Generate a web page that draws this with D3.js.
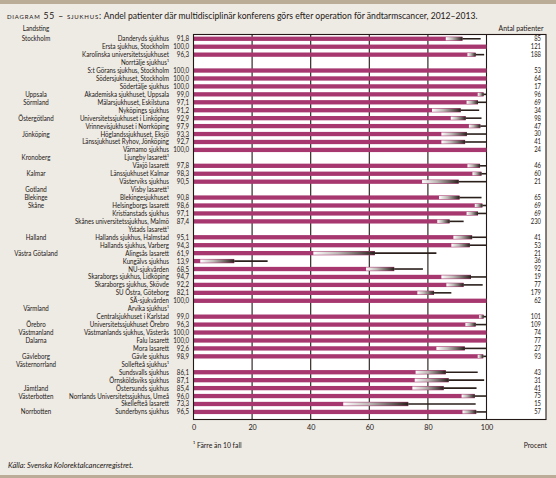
<!DOCTYPE html>
<html><head><meta charset="utf-8">
<script src="https://cdn.jsdelivr.net/npm/d3@7"></script>
<style>
html,body{margin:0;padding:0;background:#EEEAE4;}
svg{display:block;}
text{font-family:"Lato","Liberation Sans",sans-serif;fill:#231815;}
</style></head>
<body><svg id="c" width="556" height="478"></svg>
<script>
const landsting = ["Stockholm","","","","","","","Uppsala","Sörmland","","Östergötland","","Jönköping","","","Kronoberg","","Kalmar","","Gotland","Blekinge","Skåne","","","","Halland","","Västra Götaland","","","","","","","Värmland","","Örebro","Västmanland","Dalarna","","Gävleborg","Västernorrland","","","Jämtland","Västerbotten","","Norrbotten"];
const hospitals = ["Danderyds sjukhus","Ersta sjukhus, Stockholm","Karolinska universitetssjukhuset","Norrtälje sjukhus¹","S:t Görans sjukhus, Stockholm","Södersjukhuset, Stockholm","Södertälje sjukhus","Akademiska sjukhuset, Uppsala","Mälarsjukhuset, Eskilstuna","Nyköpings sjukhus","Universitetssjukhuset i Linköping","Vrinnevisjukhuset i Norrköping","Höglandssjukhuset, Eksjö","Länssjukhuset Ryhov, Jönköping","Värnamo sjukhus","Ljungby lasarett¹","Växjö lasarett","Länssjukhuset Kalmar","Västerviks sjukhus","Visby lasarett¹","Blekingesjukhuset","Helsingborgs lasarett","Kristianstads sjukhus","Skånes universitetssjukhus, Malmö","Ystads lasarett¹","Hallands sjukhus, Halmstad","Hallands sjukhus, Varberg","Alingsås lasarett","Kungälvs sjukhus","NU-sjukvården","Skaraborgs sjukhus, Lidköping","Skaraborgs sjukhus, Skövde","SU Östra, Göteborg","SÄ-sjukvården","Arvika sjukhus¹","Centralsjukhuset i Karlstad","Universitetssjukhuset Örebro","Västmanlands sjukhus, Västerås","Falu lasarett","Mora lasarett","Gävle sjukhus","Sollefteå sjukhus¹","Sundsvalls sjukhus","Örnsköldsviks sjukhus","Östersunds sjukhus","Norrlands Universitetssjukhus, Umeå","Skellefteå lasarett","Sunderbyns sjukhus"];
const values = [91.8,100,96.3,null,100,100,100,99.0,97.1,91.2,92.9,97.9,93.3,92.7,100,null,97.8,98.3,90.5,null,90.8,98.6,97.1,87.4,null,95.1,94.3,61.9,13.9,68.5,94.7,92.2,82.1,100,null,99.0,96.3,100,100,92.6,98.9,null,86.1,87.1,85.4,96.0,73.3,96.5];
const ciLow = [86.1,null,93.5,null,null,null,null,97.0,93.2,81.4,87.8,94.0,84.6,84.6,null,null,93.5,95.2,78.0,null,83.8,96.0,93.2,83.2,null,88.7,88.0,40.9,2.3,58.9,84.6,86.3,76.4,null,null,97.5,92.8,null,null,82.9,97.0,null,75.8,75.5,74.7,91.5,51.1,91.8];
const ciHigh = [98.0,null,99.2,null,null,null,null,100,100,97.5,98.3,100,100,100,null,null,100,100,100,null,98.3,100,100,92.2,null,100,100,82.9,25.3,78.3,100,98.7,88.0,null,null,100,100,null,null,100,100,null,97.0,99.2,96.6,100,96.3,100];
const patients = [85,121,188,null,53,64,17,96,69,34,98,47,30,41,24,null,46,60,21,null,65,69,69,230,null,41,53,21,36,92,19,77,179,62,null,101,109,74,77,27,93,null,43,31,41,75,15,57];
const tickValues = [0,20,40,60,80,100];

const svg = d3.select("#c");
const W = 556, H = 478;
const ink = "#231815", barColor = "#A6386F";
const SX = 0.86;

function ctext(parent, px, py, str, anchor, size, sx, extra) {
  const t = parent.append("g").attr("transform", `translate(${px},${py}) scale(${sx},1)`)
    .append("text").attr("text-anchor", anchor).style("font-size", size + "px").text(str);
  if (extra) extra(t);
  return t;
}

// bands
svg.append("rect").attr("x",0).attr("y",0).attr("width",W).attr("height",4).attr("fill","#BBAC97");
svg.append("rect").attr("x",0).attr("y",475).attr("width",W).attr("height",3).attr("fill","#BBAC97");

// title
const title = svg.append("text").attr("x",7).attr("y",18.5).style("font-size","8.6px");
title.append("tspan").text("diagram 55 – sjukhus:").style("font-variant","small-caps").style("letter-spacing","0.8px");
title.append("tspan").text(" Andel patienter där multidisciplinär konferens görs efter operation för ändtarmscancer, 2012–2013.");

const x = d3.scaleLinear().domain([0,100]).range([193.5,486.5]);
const y = d3.scaleBand().domain(d3.range(hospitals.length)).range([34.8,415.9]);
const plotTop = 34.5, plotBottom = 419.5, plotRight = 546;

// plot background
svg.append("rect").attr("x",x(0)).attr("y",plotTop).attr("width",plotRight-x(0)).attr("height",plotBottom-plotTop).attr("fill","#fff");

// headers
ctext(svg, 36, 31, "Landsting", "middle", 7.3, SX);
ctext(svg, 521, 31, "Antal patienter", "middle", 7.6, 0.9);

// gradient
const defs = svg.append("defs");
const g = defs.append("linearGradient").attr("id","ci").attr("x1","0").attr("x2","1").attr("y1","0").attr("y2","0");
g.append("stop").attr("offset","0").attr("stop-color","#ffffff");
g.append("stop").attr("offset","0.4").attr("stop-color","#bdb8b5");
g.append("stop").attr("offset","1").attr("stop-color","#2a1f1b");

const bh = 4.3;
const bars = svg.append("g");
const labels = svg.append("g");
hospitals.forEach((h,i)=>{
  const cy = y(i) + y.bandwidth()/2;
  if (landsting[i]) ctext(labels, 36, cy+2.5, landsting[i], "middle", 7.2, SX);
  ctext(labels, 169, cy+2.5, h, "end", 7.2, SX);
  if (values[i] != null) {
    ctext(labels, 189, cy+2.5, d3.format(".1f")(values[i]).replace(".",","), "end", 7.2, SX);
    bars.append("rect").attr("x",x(0)).attr("y",cy-bh/2).attr("width",x(values[i])-x(0)).attr("height",bh).attr("fill",barColor);
  }
  if (patients[i] != null) ctext(labels, 541, cy+2.4, String(patients[i]), "end", 6.8, SX);
});

// gridlines
svg.append("g").selectAll("line").data(tickValues.slice(1)).join("line")
  .attr("x1",d=>x(d)).attr("x2",d=>x(d)).attr("y1",plotTop).attr("y2",plotBottom)
  .attr("stroke",ink).attr("stroke-width",1.1);
bars.raise();

// confidence intervals
const ci = svg.append("g");
hospitals.forEach((h,i)=>{
  if (ciLow[i]==null) return;
  const cy = y(i) + y.bandwidth()/2;
  ci.append("rect").attr("x",x(ciLow[i])).attr("y",cy-1.6).attr("width",x(values[i])-x(ciLow[i])).attr("height",3.2).attr("fill","url(#ci)");
  if (ciHigh[i] > values[i]) ci.append("line").attr("x1",x(values[i])).attr("x2",x(ciHigh[i])).attr("y1",cy).attr("y2",cy).attr("stroke","#2a1f1b").attr("stroke-width",1.6);
});

// frame
svg.append("rect").attr("x",x(0)).attr("y",plotTop).attr("width",plotRight-x(0)).attr("height",plotBottom-plotTop)
  .attr("fill","none").attr("stroke",ink).attr("stroke-width",1.1);

// axis
const axis = svg.append("g").attr("transform",`translate(0,${plotBottom})`)
  .call(d3.axisBottom(x).tickValues(tickValues).tickSize(0).tickPadding(5).tickFormat(d3.format("d")));
axis.select(".domain").remove();
axis.selectAll("text").style("font-size","7.2px").attr("fill",ink).style("font-family",'"Lato",sans-serif');

// footnotes
ctext(svg, 193, 448, "¹ Färre än 10 fall", "start", 7.6, 0.9);
ctext(svg, 547, 448, "Procent", "end", 7.6, 0.9);
ctext(svg, 8, 468, "Källa: Svenska Kolorektalcancerregistret.", "start", 7.5, 1, t=>t.style("font-style","italic"));
</script></body></html>
